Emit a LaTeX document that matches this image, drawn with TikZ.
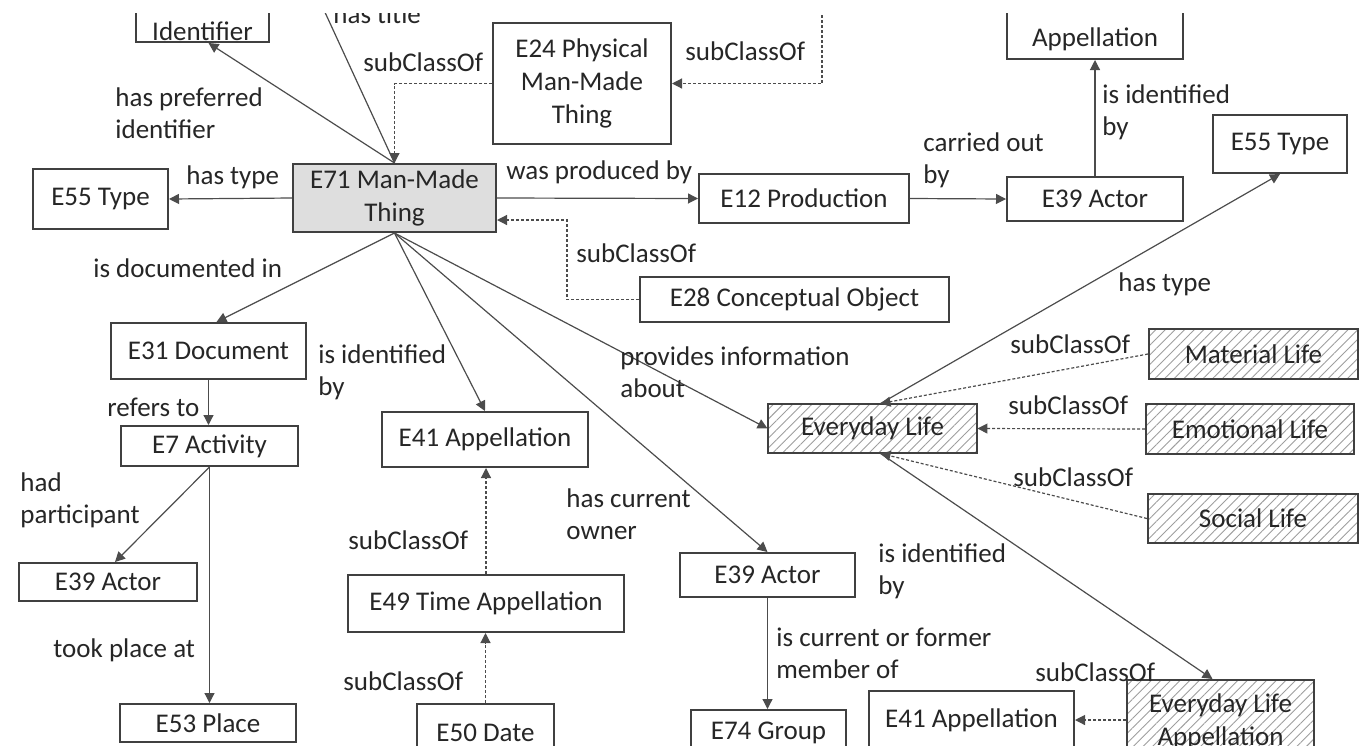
\documentclass[tikz,border=0pt]{standalone}
\usepackage{fontspec}
\setmainfont{Carlito}
\usetikzlibrary{arrows.meta,patterns.meta}
\tikzset{
    cls/.style={draw=black!75, line width=1pt, fill=white, inner sep=0pt, align=center, text=black!85, font=\fontsize{13.5}{16.5}\selectfont},
    core/.style={cls, fill=black!13},
    life/.style={cls, pattern={Lines[angle=45,distance=3.4pt,line width=0.45pt]}, pattern color=black!38},
    lbl/.style={inner sep=0pt, anchor=west, align=left, text=black!85, font=\fontsize{13.5}{16}\selectfont},
    rel/.style={draw=black!70, line width=0.6pt, -{Triangle[length=5pt,width=5pt]}},
    sub/.style={rel, dash pattern=on 1.5pt off 1pt},
}
\begin{document}
\begin{tikzpicture}[x=0.5pt,y=-0.5pt]
\useasboundingbox (0,0) rectangle (1359,745);
\clip (0,13) rectangle (1359,745);

\node[core, minimum width=101.5pt, minimum height=34pt] (e71) at (394.5,198) {E71 Man-Made\\Thing};
\node[cls, minimum width=66.5pt, anchor=south, text height=30pt, text depth=1pt] (ident) at (202.5,43) {Identifier};
\node[cls, minimum width=88pt, anchor=south, text height=30pt, text depth=6.5pt] (app) at (1095,60) {Appellation};
\node[cls, minimum width=67.5pt, minimum height=30pt] (e55a) at (100.5,199) {E55 Type};
\node[cls, minimum width=89pt, minimum height=60.5pt] (e24) at (582,83.5) {E24 Physical\\Man-Made\\Thing};
\node[cls, minimum width=105pt, minimum height=24.5pt] (e12) at (804,198.5) {E12 Production};
\node[cls, minimum width=88pt, minimum height=22pt] (e39a) at (1095,199) {E39 Actor};
\node[cls, minimum width=67pt, minimum height=29pt] (e55b) at (1280,144) {E55 Type};
\node[cls, minimum width=154.5pt, minimum height=22.5pt] (e28) at (794.5,299.5) {E28 Conceptual Object};
\node[life, minimum width=104.5pt, minimum height=24.5pt] (edl) at (872.5,428.5) {Everyday Life};
\node[life, minimum width=104.5pt, minimum height=25pt] (mat) at (1253.5,354) {Material Life};
\node[life, minimum width=104pt, minimum height=25pt] (emo) at (1250,429) {Emotional Life};
\node[life, minimum width=105pt, minimum height=24.5pt] (soc) at (1253,518.5) {Social Life};
\node[life, minimum width=93.5pt, minimum height=41.5pt] (edla) at (1220.5,721.5) {Everyday Life\\Appellation};
\node[cls, minimum width=102.5pt, minimum height=29pt] (e41c) at (971.5,720) {E41 Appellation};
\node[cls, minimum width=77.5pt, minimum height=23pt] (e74) at (768.5,733) {E74 Group};
\node[cls, minimum width=87.5pt, minimum height=22pt] (e39b) at (767.5,575) {E39 Actor};
\node[cls, minimum width=138pt, minimum height=28.5pt] (e49) at (486,603.5) {E49 Time Appellation};
\node[cls, minimum width=68.5pt, minimum height=29pt] (e50) at (485.5,733) {E50 Date};
\node[cls, minimum width=103pt, minimum height=27.5pt] (e41b) at (485,439.5) {E41 Appellation};
\node[cls, minimum width=97.5pt, minimum height=28pt] (e31) at (208.5,351) {E31 Document};
\node[cls, minimum width=88.5pt, minimum height=20pt] (e7) at (209.5,446) {E7 Activity};
\node[cls, minimum width=89pt, minimum height=19pt] (e39c) at (108,582) {E39 Actor};
\node[cls, minimum width=88pt, minimum height=19pt] (e53) at (208,723) {E53 Place};
\coordinate (ttl) at (317,-5);
\coordinate (sup) at (822,-5);

\draw[rel] (e71.north) -- ([xshift=3pt]ident.south);
\draw[rel] (e71.north) -- (ttl);
\draw[sub] (e24.west) -| (e71.north);
\draw[sub] (sup) |- (e24.east);
\draw[rel] (e71.west) -- (e55a.east);
\draw[rel] (e71.east) -- (e12.west);
\draw[rel] (e12.east) -- (e39a.west);
\draw[rel] (e39a.north) -- (app.south);
\draw[sub] (e28.west) -- ++(-72,0) |- ([yshift=-11pt]e71.east);
\draw[rel] (e71.south) -- ([xshift=4pt]e31.north);
\draw[rel] (e71.south) -- (e41b.north);
\draw[rel] (e71.south) -- (e39b.north);
\draw[rel] (e71.south) -- (edl.west);
\draw[rel] ([xshift=4pt]edl.north) -- (e55b.south);
\draw[sub] (mat.west) -- ([xshift=4pt]edl.north);
\draw[sub] (emo.west) -- (edl.east);
\draw[sub] (soc.west) -- ([xshift=4pt]edl.south);
\draw[rel] ([xshift=4pt]edl.south) -- ([xshift=-4pt]edla.north);
\draw[sub] (edla.west |- e41c.east) -- (e41c.east);
\draw[rel] (e31.south) -- (e31.south |- e7.north);
\draw[rel] (e7.south) -- ([xshift=3.5pt]e39c.north);
\draw[rel] (e7.south) -- (e7.south |- e53.north);
\draw[sub] (e49.north) -- (e49.north |- e41b.south);
\draw[sub] (e50.north) -- (e50.north |- e49.south);
\draw[rel] (e39b.south) -- (e39b.south |- e74.north);

\node[lbl] (lttl) at (333,14) {has title};
\node[lbl] (lsub1) at (363,62) {subClassOf};
\node[lbl] (lsub2) at (685,51) {subClassOf};
\node[lbl] (lpref) at (115,113) {has preferred\\identifier};
\node[lbl] (ltype1) at (186,177) {has type};
\node[lbl] (lprod) at (506,172) {was produced by};
\node[lbl] (lcarr) at (923,160) {carried out\\by};
\node[lbl] (lid1) at (1102,112) {is identified\\by};
\node[lbl] (lsub3) at (576,253) {subClassOf};
\node[lbl] (ldoc) at (93,268) {is documented in};
\node[lbl] (lid2) at (318,372) {is identified\\by};
\node[lbl] (linfo) at (620,372) {provides information\\about};
\node[lbl] (lown) at (566,514) {has current\\owner};
\node[lbl] (lid3) at (878,571) {is identified\\by};
\node[lbl] (lmem) at (776,653) {is current or former\\member of};
\node[lbl] (lpart) at (20,500) {had\\participant};
\node[lbl] (lref) at (107,407) {refers to};
\node[lbl] (lplace) at (53,650) {took place at};
\node[lbl] (lsub4) at (348,540) {subClassOf};
\node[lbl] (lsub5) at (343,681) {subClassOf};
\node[lbl] (ltype2) at (1118,284) {has type};
\node[lbl] (lsub6) at (1010,344) {subClassOf};
\node[lbl] (lsub7) at (1008,405) {subClassOf};
\node[lbl] (lsub8) at (1013,477) {subClassOf};
\node[lbl] (lsub9) at (1035,672) {subClassOf};
\end{tikzpicture}
\end{document}
